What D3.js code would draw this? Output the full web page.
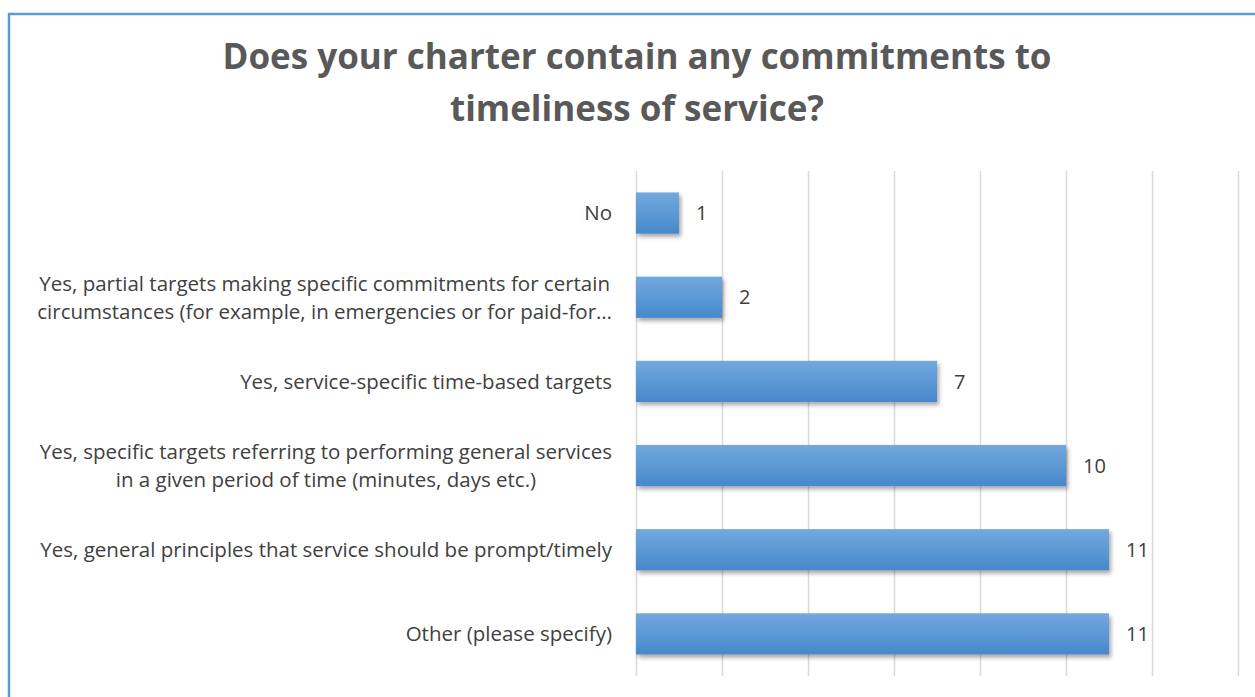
<!DOCTYPE html>
<html>
<head>
<meta charset="utf-8">
<script src="https://cdn.jsdelivr.net/npm/d3@7"></script>
<style>
  html, body { margin: 0; padding: 0; background: #fff; }
  svg { display: block; }
</style>
</head>
<body>
<svg id="chart" width="1255" height="697"></svg>
<script>
// Survey answers, top to bottom
const categories = [
  ["No"],
  ["Yes, partial targets making specific commitments for certain", "circumstances (for example, in emergencies or for paid-for…"],
  ["Yes, service-specific time-based targets"],
  ["Yes, specific targets referring to performing general services", "in a given period of time (minutes, days etc.)"],
  ["Yes, general principles that service should be prompt/timely"],
  ["Other (please specify)"]
];
const counts = [1, 2, 7, 10, 11, 11];
const xTicks = [0, 2, 4, 6, 8, 10, 12, 14];
const titleLines = ["Does your charter contain any commitments to", "timeliness of service?"];

const W = 1255, H = 697;
const plot = { left: 636, right: 1238, top: 171, bottom: 676 };
const font = "'Open Sans', Lato, sans-serif";

const svg = d3.select("#chart");

// Gradient and shadow for the bars
const defs = svg.append("defs");
const grad = defs.append("linearGradient")
  .attr("id", "barFill").attr("x1", 0).attr("y1", 0).attr("x2", 0).attr("y2", 1);
grad.append("stop").attr("offset", "0%").attr("stop-color", "#72a9de");
grad.append("stop").attr("offset", "100%").attr("stop-color", "#4788cb");

const shadow = defs.append("filter").attr("id", "barShadow")
  .attr("x", "-5%").attr("y", "-20%").attr("width", "115%").attr("height", "160%");
shadow.append("feDropShadow")
  .attr("dx", 2).attr("dy", 3).attr("stdDeviation", 2.2)
  .attr("flood-color", "#000").attr("flood-opacity", 0.35);

// Outer frame
svg.append("rect")
  .attr("x", 9).attr("y", 14).attr("width", W + 20).attr("height", H + 20)
  .attr("fill", "#fff").attr("stroke", "#5b9bd5").attr("stroke-width", 2.5);

// Title
svg.append("text")
  .attr("x", 637).attr("y", 69)
  .attr("text-anchor", "middle")
  .style("font-family", font).style("font-weight", "bold")
  .style("font-size", "35px").style("fill", "#595959")
  .selectAll("tspan").data(titleLines).join("tspan")
  .attr("x", 637).attr("dy", (d, i) => i === 0 ? 0 : 52)
  .text(d => d);

// Scales
const x = d3.scaleLinear().domain([0, 14]).range([plot.left, plot.right]);
const y = d3.scaleBand().domain(d3.range(categories.length))
  .range([plot.top, plot.bottom]).paddingInner(0.51).paddingOuter(0.255);

// Vertical gridlines
const xAxis = d3.axisBottom(x).tickValues(xTicks).tickSize(-(plot.bottom - plot.top)).tickFormat("");
const gx = svg.append("g").attr("transform", `translate(0,${plot.bottom})`).call(xAxis);
gx.select(".domain").remove();
gx.selectAll(".tick line").attr("stroke", "#d9d9d9").attr("stroke-width", 1.5);

// Bars
svg.append("g").selectAll("rect").data(counts).join("rect")
  .attr("x", x(0))
  .attr("y", (d, i) => y(i))
  .attr("width", d => x(d) - x(0))
  .attr("height", y.bandwidth())
  .attr("fill", "url(#barFill)")
  .attr("filter", "url(#barShadow)");

// Value labels
svg.append("g").selectAll("text").data(counts).join("text")
  .attr("x", d => x(d) + 17)
  .attr("y", (d, i) => y(i) + y.bandwidth() / 2)
  .attr("dy", "0.36em")
  .style("font-family", font).style("font-size", "20px").style("fill", "#404040")
  .text(d => d);

// Category labels: each block right-aligned, lines centred within the block
const labelRight = 612, lineH = 28;
svg.append("g").selectAll("text").data(categories).join("text")
  .attr("text-anchor", "middle")
  .style("font-family", font).style("font-size", "20.5px").style("fill", "#404040")
  .each(function(lines, i) {
    const t = d3.select(this);
    const cy = y(i) + y.bandwidth() / 2;
    const spans = t.selectAll("tspan").data(lines).join("tspan")
      .attr("y", (d, j) => cy + (j - (lines.length - 1) / 2) * lineH)
      .attr("dy", "0.36em")
      .text(d => d);
    const widest = d3.max(spans.nodes(), n => n.getComputedTextLength());
    spans.attr("x", labelRight - widest / 2);
  });
</script>
</body>
</html>
